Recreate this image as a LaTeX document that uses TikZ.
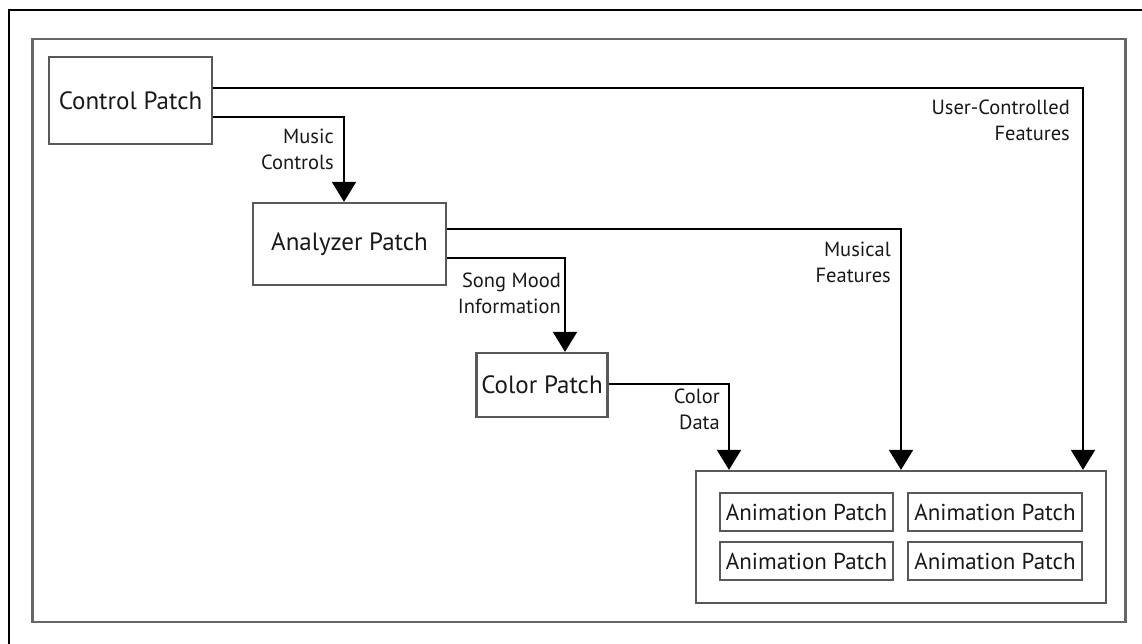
\documentclass[tikz,border=0pt]{standalone}
\usepackage{fontspec}
\setmainfont{PT Sans}
\usetikzlibrary{arrows.meta}
\begin{document}
\begin{tikzpicture}[x=1pt,y=-1pt,
  box/.style={draw=black!65,line width=2.2pt,rectangle,inner sep=0pt,text=black!90},
  bigtxt/.style={font=\fontsize{25}{28}\selectfont},
  midtxt/.style={font=\fontsize{23}{26}\selectfont},
  lbl/.style={font=\fontsize{20.5}{26}\selectfont,align=right,anchor=east,text=black!90,inner sep=0pt},
  arr/.style={draw=black,line width=1.8pt,-{Triangle[width=24pt,length=20pt]}}]
\useasboundingbox (0,0) rectangle (1142,644);
% outer frame lines (top and left)
\draw[black,line width=2pt] (9,644) -- (9,10) -- (1142,10);
% inner frame
\node[box,draw=black!60,line width=2.5pt,minimum width=1093pt,minimum height=583pt] (frame) at (579,330.5) {};
% nodes
\node[box,bigtxt,minimum width=163pt,minimum height=87pt] (ctrl) at (130.5,100.5) {Control Patch};
\node[box,bigtxt,minimum width=193pt,minimum height=82pt] (ana) at (349.5,244) {Analyzer Patch};
\node[box,bigtxt,minimum width=131pt,minimum height=64pt] (col) at (542,385) {Color Patch};
\node[box,minimum width=410pt,minimum height=132pt] (anim) at (901,537) {};
\node[box,midtxt,minimum width=173pt,minimum height=38pt] (a11) at (806.5,512) {Animation Patch};
\node[box,midtxt,minimum width=174pt,minimum height=38pt] (a12) at (995,512) {Animation Patch};
\node[box,midtxt,minimum width=173pt,minimum height=38pt] (a21) at (806.5,561) {Animation Patch};
\node[box,midtxt,minimum width=174pt,minimum height=38pt] (a22) at (995,561) {Animation Patch};
% coordinates for bends
\coordinate (uc) at (1083,88);
\coordinate (mc) at (344,117);
\coordinate (mf) at (901,229);
\coordinate (sm) at (565,258);
\coordinate (cd) at (729,384);
% connectors
\draw[arr] (ctrl.east |- uc) -| (anim.north -| uc);
\draw[arr] (ctrl.east |- mc) -| (ana.north -| mc);
\draw[arr] (ana.east |- mf) -| (anim.north -| mf);
\draw[arr] (ana.east |- sm) -| (col.north -| sm);
\draw[arr] (col.east |- cd) -| (anim.north -| cd);
% labels
\node[lbl] (lmc) at (334,149) {Music\\Controls};
\node[lbl] (luc) at (1070,120) {User-Controlled\\Features};
\node[lbl] (lmf) at (891,262) {Musical\\Features};
\node[lbl] (lsm) at (561,293) {Song Mood\\Information};
\node[lbl] (lcd) at (720,409) {Color\\Data};
\end{tikzpicture}
\end{document}
